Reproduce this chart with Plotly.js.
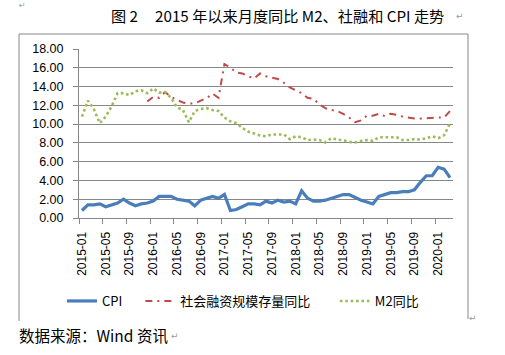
<!DOCTYPE html>
<html>
<head>
<meta charset="utf-8">
<script src="https://cdn.plot.ly/plotly-3.0.1.min.js"></script>
<style>html,body{margin:0;padding:0;background:#fff;}#chart{width:505px;height:355px;}</style>
</head>
<body>
<div id="chart"></div>
<script>
var months = ["2015-01","2015-02","2015-03","2015-04","2015-05","2015-06","2015-07","2015-08","2015-09","2015-10","2015-11","2015-12",
"2016-01","2016-02","2016-03","2016-04","2016-05","2016-06","2016-07","2016-08","2016-09","2016-10","2016-11","2016-12",
"2017-01","2017-02","2017-03","2017-04","2017-05","2017-06","2017-07","2017-08","2017-09","2017-10","2017-11","2017-12",
"2018-01","2018-02","2018-03","2018-04","2018-05","2018-06","2018-07","2018-08","2018-09","2018-10","2018-11","2018-12",
"2019-01","2019-02","2019-03","2019-04","2019-05","2019-06","2019-07","2019-08","2019-09","2019-10","2019-11","2019-12",
"2020-01","2020-02","2020-03"];

var tickLabels = ["2015-01","2015-05","2015-09","2016-01","2016-05","2016-09","2017-01","2017-05","2017-09",
"2018-01","2018-05","2018-09","2019-01","2019-05","2019-09","2020-01"];

var cpi = [0.8,1.4,1.4,1.5,1.2,1.4,1.6,2.0,1.6,1.3,1.5,1.6,
1.8,2.3,2.3,2.3,2.0,1.9,1.8,1.3,1.9,2.1,2.3,2.1,
2.5,0.8,0.9,1.2,1.5,1.5,1.4,1.8,1.6,1.9,1.7,1.8,
1.5,2.9,2.1,1.8,1.8,1.9,2.1,2.3,2.5,2.5,2.2,1.9,
1.7,1.5,2.3,2.5,2.7,2.7,2.8,2.8,3.0,3.8,4.5,4.5,
5.4,5.2,4.3];

var tsf = [null,null,null,null,null,null,null,null,null,null,null,12.4,
12.9,12.8,13.4,12.9,12.6,12.3,12.2,12.2,12.5,12.75,13.25,12.8,
16.4,16.0,15.5,15.4,15.1,14.85,15.4,15.1,14.95,14.8,14.4,13.9,
13.6,13.3,12.8,12.7,12.1,11.7,11.5,11.4,11.1,10.7,10.2,10.4,
10.9,10.9,11.1,10.85,11.1,11.0,10.8,10.7,10.6,10.6,10.65,10.7,
10.7,10.7,11.4];

var m2 = [10.8,12.5,11.6,10.1,10.8,11.9,13.3,13.3,13.1,13.5,13.6,13.3,
13.8,13.35,13.4,12.8,11.8,11.5,10.2,11.4,11.6,11.7,11.5,11.4,
10.7,10.3,10.1,9.6,9.2,9.0,8.8,8.7,8.9,8.9,8.9,8.4,
8.7,8.6,8.3,8.35,8.3,8.05,8.5,8.35,8.3,8.1,8.05,8.2,
8.3,8.2,8.6,8.6,8.6,8.6,8.3,8.3,8.4,8.35,8.5,8.7,
8.5,8.8,10.1];

var names = ["CPI","社会融资规模存量同比","M2同比"];

// tick-mark positions at category boundaries, every 4 months
var boundaryTicks = [];
for (var i = 0; i <= months.length; i += 4) boundaryTicks.push(i - 0.5);

var grey = "#878787";
var fontMain = "Liberation Sans, Noto Sans CJK SC, sans-serif";
var fontCJK = "Noto Sans CJK SC, Liberation Sans, sans-serif";

// plot area geometry (paper coordinates reference)
var L = 79, R = 52, T = 49, B = 137, W = 505, H = 355;
var pw = W - L - R, ph = H - T - B;
function px(x){ return (x - L) / pw; }
function py(y){ return (H - B - y) / ph; }

var EN = "\u2002";
var traces = [
  {x: months, y: cpi, name: names[0] + EN + EN, type: "scatter", mode: "lines",
   line: {color: "#4A7EBB", width: 3.2}, hoverinfo: "skip"},
  {x: months, y: tsf, name: names[1] + EN + EN + EN, type: "scatter", mode: "lines",
   line: {color: "#BE4B48", width: 2, dash: "7px,5px,2px,5px"}, hoverinfo: "skip"},
  {x: months, y: m2, name: names[2], type: "scatter", mode: "lines",
   line: {color: "#9BBB59", width: 2.6, dash: "2.6px,2.8px"}, hoverinfo: "skip"},
  {x: [], y: [], xaxis: "x2", showlegend: false, hoverinfo: "skip", type: "scatter", mode: "lines"}
];

var layout = {
  width: W, height: H,
  margin: {l: L, r: R, t: T, b: B, pad: 0},
  paper_bgcolor: "#fff", plot_bgcolor: "#fff",
  showlegend: true,
  xaxis: {
    type: "category", range: [-0.5, months.length - 0.5],
    tickmode: "array", tickvals: tickLabels, ticktext: tickLabels,
    tickangle: -90, ticks: "outside", ticklen: 8, tickcolor: "rgba(0,0,0,0)",
    showgrid: false, zeroline: false,
    showline: true, linecolor: grey, linewidth: 1,
    tickfont: {family: fontMain, size: 12, color: "#000"},
    fixedrange: true
  },
  xaxis2: {
    overlaying: "x", side: "bottom", type: "linear",
    range: [-0.5, months.length - 0.5],
    tickmode: "array", tickvals: boundaryTicks, showticklabels: false,
    ticks: "outside", ticklen: 5, tickcolor: grey, tickwidth: 1,
    showgrid: false, zeroline: false, showline: false
  },
  yaxis: {
    range: [0, 18], dtick: 2, tick0: 0, tickformat: ".2f",
    showgrid: true, gridcolor: grey, gridwidth: 1,
    showline: true, linecolor: grey, linewidth: 1,
    ticks: "outside", ticklen: 5, tickcolor: grey,
    ticklabelstandoff: 7,
    zeroline: false,
    tickfont: {family: fontMain, size: 12.5, color: "#000"},
    fixedrange: true
  },
  legend: {
    orientation: "h", x: px(62), y: py(301), xanchor: "left", yanchor: "middle",
    font: {family: fontCJK, size: 13, color: "#000"},
    bgcolor: "rgba(0,0,0,0)", itemwidth: 30
  },
  shapes: [
    {type: "line", xref: "paper", yref: "paper", x0: px(19), x1: px(468), y0: py(34), y1: py(34), line: {color: grey, width: 1}},
    {type: "line", xref: "paper", yref: "paper", x0: px(19), x1: px(19), y0: py(34), y1: py(321), line: {color: grey, width: 1}},
    {type: "line", xref: "paper", yref: "paper", x0: px(468), x1: px(468), y0: py(34), y1: py(319), line: {color: grey, width: 1}}
  ],
  annotations: [
    {text: "图 2\u00a0\u00a0\u00a0\u00a0\u00a02015 年以来月度同比 M2、社融和 CPI 走势", xref: "paper", yref: "paper",
     x: px(109), y: py(15), xanchor: "left", yanchor: "middle", showarrow: false,
     font: {family: fontCJK, size: 15.2, color: "#000"}},
    {text: "数据来源：Wind 资讯", xref: "paper", yref: "paper",
     x: px(17), y: py(335), xanchor: "left", yanchor: "middle", showarrow: false,
     font: {family: fontCJK, size: 15.5, color: "#000"}},
    {text: "↵", xref: "paper", yref: "paper", x: px(17), y: py(5), xanchor: "left", yanchor: "middle",
     showarrow: false, font: {family: "DejaVu Sans", size: 8, color: "#9a9a9a"}},
    {text: "↵", xref: "paper", yref: "paper", x: px(454), y: py(16), xanchor: "left", yanchor: "middle",
     showarrow: false, font: {family: "DejaVu Sans", size: 9, color: "#9a9a9a"}},
    {text: "↵", xref: "paper", yref: "paper", x: px(467), y: py(318), xanchor: "left", yanchor: "middle",
     showarrow: false, font: {family: "DejaVu Sans", size: 9, color: "#9a9a9a"}},
    {text: "↵", xref: "paper", yref: "paper", x: px(169), y: py(336), xanchor: "left", yanchor: "middle",
     showarrow: false, font: {family: "DejaVu Sans", size: 9, color: "#9a9a9a"}}
  ]
};

Plotly.newPlot("chart", traces, layout, {staticPlot: true, displayModeBar: false});
</script>
</body>
</html>
